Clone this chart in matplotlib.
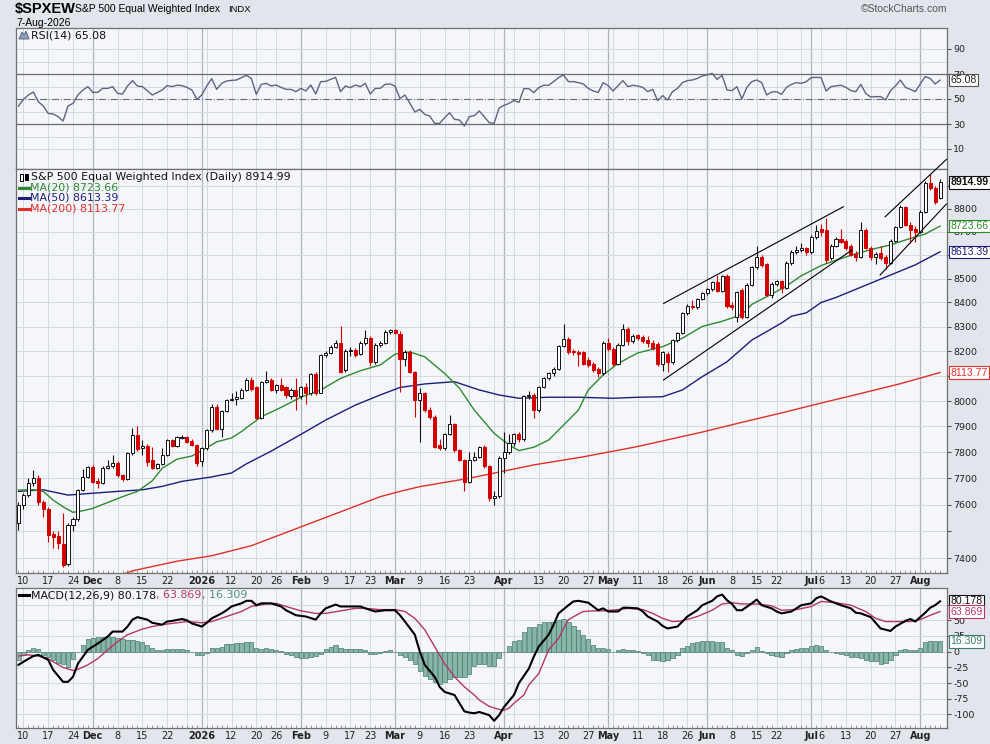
import numpy as np
import matplotlib
matplotlib.use("Agg")
import matplotlib.pyplot as plt
from matplotlib import font_manager
from matplotlib.lines import Line2D
from matplotlib.patches import Polygon, Rectangle

# daily bars, 7-Nov-2025 .. 7-Aug-2026 (bar 0 = 7-Nov)
opens = [7530, 7600, 7636, 7680, 7700, 7610, 7585, 7490, 7482, 7455,
         7380, 7525, 7547, 7655, 7705, 7743, 7690, 7682, 7740, 7745,
         7758, 7712, 7697, 7797, 7866, 7816, 7823, 7770, 7740, 7755,
         7790, 7847, 7825, 7855, 7860, 7845, 7828, 7765, 7815, 7886,
         7978, 7890, 7960, 8005, 8010, 8013, 8045, 8085, 8055, 7935,
         8077, 8085, 8045, 8065, 8055, 8018, 8044, 8018, 8055, 8032,
         8108, 8032, 8185, 8193, 8218, 8234, 8124, 8200, 8204, 8190,
         8234, 8255, 8157, 8226, 8234, 8280, 8285, 8270, 8168, 8198,
         8116, 8004, 8030, 7964, 7938, 7826, 7818, 7870, 7910, 7808,
         7770, 7687, 7770, 7783, 7820, 7745, 7625, 7632, 7778, 7800,
         7835, 7870, 7850, 8020, 8024, 7964, 8055, 8090, 8110, 8128,
         8220, 8250, 8200, 8196, 8196, 8165, 8150, 8128, 8110, 8234,
         8210, 8150, 8226, 8290, 8240, 8264, 8258, 8245, 8234, 8230,
         8150, 8190, 8155, 8245, 8273, 8356, 8386, 8380, 8415, 8440,
         8455, 8484, 8450, 8510, 8390, 8340, 8452, 8340, 8473, 8548,
         8590, 8560, 8430, 8477, 8490, 8460, 8565, 8612, 8620, 8628,
         8612, 8677, 8712, 8705, 8585, 8640, 8670, 8660, 8640, 8605,
         8590, 8707, 8630, 8590, 8610, 8590, 8565, 8660, 8720, 8808,
         8730, 8712, 8700, 8787, 8910, 8892, 8845]
highs = [7610, 7645, 7700, 7731, 7712, 7618, 7590, 7500, 7500, 7570,
         7530, 7555, 7660, 7735, 7748, 7750, 7700, 7745, 7770, 7790,
         7765, 7718, 7800, 7894, 7900, 7847, 7830, 7820, 7760, 7815,
         7850, 7852, 7862, 7865, 7864, 7850, 7832, 7820, 7890, 7990,
         7990, 7965, 8010, 8030, 8040, 8050, 8090, 8095, 8060, 8080,
         8120, 8090, 8068, 8090, 8060, 8050, 8090, 8060, 8070, 8112,
         8115, 8190, 8200, 8225, 8245, 8302, 8210, 8215, 8212, 8240,
         8285, 8262, 8232, 8240, 8285, 8292, 8292, 8282, 8205, 8205,
         8120, 8050, 8035, 7975, 7945, 7850, 7875, 7945, 7915, 7812,
         7775, 7800, 7800, 7825, 7828, 7750, 7650, 7785, 7880, 7870,
         7875, 7880, 8025, 8040, 8030, 8060, 8095, 8115, 8135, 8225,
         8310, 8258, 8210, 8205, 8200, 8175, 8158, 8135, 8240, 8255,
         8218, 8232, 8310, 8300, 8270, 8270, 8265, 8262, 8245, 8238,
         8200, 8196, 8250, 8280, 8360, 8392, 8410, 8420, 8445, 8460,
         8490, 8515, 8515, 8520, 8400, 8450, 8460, 8480, 8555, 8640,
         8600, 8565, 8485, 8495, 8495, 8575, 8620, 8640, 8650, 8635,
         8685, 8730, 8735, 8760, 8645, 8675, 8712, 8668, 8648, 8615,
         8740, 8715, 8640, 8612, 8640, 8598, 8668, 8725, 8815, 8812,
         8740, 8725, 8792, 8920, 8950, 8900, 8930]
lows = [7505, 7585, 7630, 7672, 7600, 7554, 7460, 7440, 7435, 7370,
        7372, 7500, 7540, 7650, 7700, 7680, 7663, 7678, 7735, 7740,
        7705, 7690, 7692, 7790, 7805, 7790, 7745, 7735, 7735, 7750,
        7785, 7820, 7820, 7850, 7835, 7822, 7745, 7745, 7810, 7880,
        7885, 7860, 7955, 8000, 7985, 8008, 8040, 8040, 7930, 7930,
        8070, 8040, 8030, 8040, 8012, 8010, 7965, 8010, 7990, 8025,
        8025, 8030, 8178, 8188, 8212, 8110, 8115, 8180, 8178, 8185,
        8225, 8140, 8150, 8218, 8228, 8270, 8268, 8035, 8140, 8110,
        7938, 7840, 7958, 7930, 7815, 7808, 7810, 7865, 7800, 7765,
        7650, 7680, 7765, 7778, 7738, 7612, 7598, 7625, 7720, 7792,
        7825, 7840, 7845, 8010, 7935, 7958, 8050, 8085, 8100, 8122,
        8215, 8190, 8185, 8140, 8145, 8135, 8115, 8095, 8105, 8200,
        8140, 8145, 8220, 8225, 8232, 8245, 8232, 8215, 8205, 8140,
        8120, 8115, 8150, 8238, 8268, 8350, 8375, 8375, 8410, 8432,
        8450, 8445, 8445, 8378, 8370, 8320, 8330, 8335, 8468, 8540,
        8550, 8425, 8420, 8470, 8440, 8455, 8558, 8605, 8612, 8600,
        8605, 8670, 8680, 8565, 8580, 8632, 8650, 8620, 8595, 8575,
        8585, 8625, 8580, 8560, 8580, 8540, 8560, 8655, 8715, 8725,
        8650, 8655, 8695, 8780, 8880, 8820, 8840]
closes = [7600, 7636, 7680, 7700, 7610, 7585, 7485, 7480, 7458, 7377,
          7525, 7547, 7655, 7705, 7743, 7685, 7682, 7740, 7745, 7758,
          7712, 7697, 7797, 7866, 7812, 7823, 7762, 7740, 7755, 7790,
          7847, 7825, 7858, 7860, 7840, 7828, 7760, 7815, 7886, 7978,
          7890, 7960, 8005, 8010, 8015, 8045, 8085, 8048, 7933, 8077,
          8085, 8045, 8065, 8045, 8024, 8044, 8018, 8055, 8032, 8108,
          8032, 8185, 8193, 8218, 8234, 8116, 8200, 8204, 8185, 8234,
          8255, 8157, 8226, 8234, 8280, 8285, 8275, 8168, 8198, 8116,
          8004, 8030, 7964, 7938, 7820, 7818, 7870, 7910, 7808, 7770,
          7687, 7770, 7783, 7820, 7745, 7625, 7632, 7778, 7800, 7835,
          7870, 7850, 8020, 8025, 7964, 8055, 8090, 8110, 8128, 8220,
          8250, 8196, 8196, 8190, 8150, 8145, 8124, 8110, 8234, 8210,
          8150, 8226, 8290, 8240, 8262, 8255, 8240, 8232, 8214, 8150,
          8195, 8155, 8245, 8273, 8356, 8386, 8380, 8415, 8440, 8455,
          8484, 8450, 8510, 8384, 8380, 8445, 8340, 8473, 8548, 8590,
          8558, 8430, 8477, 8490, 8460, 8565, 8612, 8622, 8628, 8612,
          8677, 8702, 8700, 8580, 8640, 8668, 8655, 8630, 8600, 8590,
          8707, 8630, 8590, 8603, 8585, 8565, 8660, 8720, 8808, 8730,
          8707, 8700, 8787, 8910, 8892, 8830, 8914.99]

# moving averages, read at selected bars
ma20_bar = [0, 3, 5, 7, 9, 11, 13, 15, 18, 21, 24, 27, 29, 32, 35, 37, 40, 43, 45, 49,
            53, 57, 61, 65, 69, 73, 76, 79, 82, 86, 89, 92, 96, 99, 101, 104, 107, 110, 113, 115,
            118, 121, 125, 130, 134, 138, 142, 146, 148, 152, 155, 158, 162, 165, 169, 173, 176, 179, 183, 186]
ma20 = [7655, 7656, 7650, 7617, 7592, 7571, 7577, 7586, 7608, 7630, 7650, 7690, 7738, 7773, 7785, 7806, 7840, 7855, 7880, 7938,
        7975, 8015, 8044, 8090, 8121, 8144, 8188, 8197, 8177, 8110, 8051, 7964, 7873, 7828, 7806, 7819, 7847, 7905, 7964, 8044,
        8104, 8150, 8193, 8218, 8253, 8301, 8322, 8350, 8392, 8435, 8469, 8512, 8555, 8578, 8605, 8628, 8643, 8664, 8690, 8723.66]
ma50_bar = [0, 5, 10, 15, 20, 25, 29, 33, 39, 43, 46, 51, 57, 62, 68, 73, 77, 82, 88, 93,
            97, 101, 107, 113, 120, 125, 130, 134, 138, 143, 148, 154, 156, 159, 162, 165, 169, 176, 181, 186]
ma50 = [7650, 7656, 7636, 7643, 7650, 7656, 7669, 7688, 7705, 7720, 7755, 7804, 7869, 7925, 7984, 8024, 8054, 8068, 8077, 8044,
        8024, 8011, 8015, 8015, 8011, 8015, 8017, 8044, 8097, 8157, 8245, 8315, 8343, 8357, 8400, 8421, 8455, 8515, 8558, 8613.39]
ma200_bar = [15, 23, 32, 39, 47, 66, 73, 77, 81, 91, 104, 114, 125, 138, 146, 154, 162, 170, 178, 186]
ma200 = [7300, 7355, 7390, 7410, 7447, 7580, 7630, 7650, 7668, 7700, 7751, 7782, 7822, 7878, 7916, 7953, 7992, 8030, 8069, 8113.77]

rsi = [44.4, 49.7, 53.2, 55.6, 47.9, 44.4, 38.5, 38.0, 35.9, 32.4,
       44.4, 46.5, 53.2, 57.2, 59.9, 55.3, 55.3, 58.5, 58.5, 59.9,
       54.5, 54.0, 60.4, 64.7, 60.4, 59.9, 56.7, 53.2, 55.1, 57.2,
       60.7, 59.9, 61.0, 60.7, 59.3, 57.2, 49.7, 53.2, 60.4, 66.3,
       57.7, 62.5, 64.4, 64.9, 65.2, 67.1, 68.9, 66.5, 53.7, 61.7,
       62.5, 60.4, 61.2, 59.3, 57.7, 57.7, 55.9,
       58.5, 56.4, 61.2, 54.0, 63.9, 64.1, 65.7, 67.3, 55.9, 60.4,
       59.1, 61.2, 59.9, 62.5, 54.0, 58.5, 58.5, 61.7, 62.0, 60.4,
       50.3, 53.2, 46.5, 39.6, 41.7, 37.7, 36.4, 30.5, 30.5, 35.0,
       39.0, 33.7, 33.2, 28.4, 35.9, 36.7, 40.4, 35.9, 31.1, 30.5,
       42.8, 44.9, 46.5, 48.7, 47.3, 58.3, 58.3, 55.1, 59.1, 61.0,
       61.0, 63.9, 67.1, 69.2, 63.9, 63.9, 63.1, 62.0, 58.5, 56.4,
       55.3, 63.1, 60.7, 56.4, 60.7, 64.7, 59.9, 61.0, 60.4, 59.3,
       55.9, 57.7, 48.7, 52.7, 49.2, 55.9, 58.5,
       63.1, 64.7, 65.2, 66.5, 68.4, 69.2, 70.5, 65.7, 68.9, 57.2,
       56.7, 59.9, 50.0, 59.3, 63.9, 65.2, 63.1, 53.2, 55.6, 55.9,
       53.7, 59.3, 61.7, 63.1, 62.5, 63.9, 67.1, 67.3, 67.1, 56.4,
       59.9, 60.5, 61.0, 59.3, 56.7, 55.9, 61.7, 54.5, 51.6, 51.9,
       51.9, 49.2, 56.7, 60.4, 65.2, 59.3, 57.7, 55.9, 62.0, 67.9,
       66.5, 62.0, 65.08]

macd_bar = [0, 1, 3, 4, 6, 7, 9, 10, 11, 12, 14, 16, 18, 19, 21, 22, 23, 24, 26, 27,
            29, 30, 31, 33, 34, 35, 37, 38, 39, 41, 42, 43, 45, 46, 47, 48, 49, 51, 53, 54,
            56, 58, 60, 61, 62, 64, 65, 67, 69, 70, 72, 74, 76, 77, 78, 80, 81, 82, 84, 85,
            86, 88, 89, 90, 91, 92, 93, 95, 96, 97, 98, 100, 101, 103, 104, 105, 107, 108, 109, 111,
            112, 113, 115, 116, 117, 118, 119, 121, 122, 123, 125, 126, 127, 129, 130, 131, 133, 134, 135, 137,
            138, 140, 141, 142, 143, 144, 145, 146, 148, 149, 150, 152, 153, 154, 156, 157, 158, 160, 161, 162,
            164, 165, 166, 168, 169, 170, 172, 173, 174, 176, 177, 179, 180, 181, 182, 183, 184, 185, 186]
macd = [-21, -16, -7, -5, -13, -29, -48, -48, -40, -19, 3, 13, 24, 32, 32, 40, 51, 55, 51, 46,
        43, 48, 49, 52, 50, 45, 40, 46, 53, 61, 66, 72, 77, 81, 81, 74, 77, 77, 72, 66,
        58, 56, 51, 61, 69, 75, 72, 72, 72, 69, 64, 66, 66, 58, 48, 27, 0, -21, -40, -56,
        -64, -69, -82, -95, -97, -98, -96, -101, -110, -101, -88, -69, -50, -27, -8, 8, 27, 43, 61, 74,
        80, 81, 78, 72, 66, 69, 64, 64, 70, 70, 69, 64, 56, 48, 41, 37, 40, 48, 56, 66,
        74, 81, 88, 91, 82, 76, 66, 66, 77, 83, 74, 69, 64, 61, 64, 69, 74, 77, 85, 88,
        80, 77, 74, 69, 62, 61, 55, 46, 37, 33, 40, 49, 52, 48, 55, 62, 70, 74, 80.178]
signal_bar = [0, 2, 4, 6, 7, 9, 11, 12, 14, 16, 18, 20, 22, 25, 27, 29, 31, 34, 37, 39,
              42, 45, 47, 50, 52, 54, 57, 60, 62, 65, 68, 70, 73, 76, 78, 80, 82, 84, 86, 88,
              90, 92, 93, 95, 97, 98, 99, 100, 102, 103, 105, 106, 107, 109, 110, 111, 113, 114, 116, 118,
              121, 123, 126, 128, 130, 132, 134, 137, 140, 142, 144, 146, 149, 152, 154, 157, 160, 162, 165, 168,
              171, 173, 175, 177, 180, 182, 184, 186]
signal = [-7, -5, -7, -11, -16, -25, -30, -28, -21, -11, 3, 16, 27, 36, 40, 43, 45, 48, 46, 48,
          56, 64, 72, 76, 77, 72, 65, 61, 61, 65, 69, 69, 67, 67, 64, 53, 35, 8, -19, -40,
          -56, -69, -77, -87, -92, -93, -90, -82, -69, -53, -35, -16, 3, 21, 37, 51, 60, 64, 65, 65,
          67, 69, 67, 61, 53, 48, 49, 56, 66, 76, 78, 76, 76, 73, 66, 67, 72, 80, 78, 74,
          64, 53, 48, 48, 48, 51, 58, 63.869]
hist = [-14, -6, 2, 6, 4, -5, -9, -13, -18, -20, -24, -12, 0, 10, 20, 22, 23, 24, 25, 24,
        22, 20, 19, 18, 17, 15, 11, 6, 3, 3, 4, 4, 5, 5, 3, 0, -5, -5, -2, 6,
        6, 8, 12, 13, 14, 14, 15, 15, 6, 5, 6, 4, 3, 1, -3, -5, -9, -10, -10, -9,
        -7, -3, 5, 8, 11, 6, 5, 4, 5, 4, 3, -3, -3, -2, 1, 2, 0, -5, -9, -13,
        -20, -30, -38, -44, -48, -52, -48, -44, -40, -40, -40, -36, -22, -20, -20, -22, -22, -10, 0, 8.5,
        16.5, 19, 32, 40, 40, 44, 47, 47, 47, 50, 52, 48, 41, 35, 27, 20, 10.6, 6, 6, 4,
        0, 3, 4, 3, 2, 1, -2, -5, -13, -14, -15.5, -13, -10, -6, 6, 9.5, 14, 15, 16.5, 17.5,
        16.5, 16, 15, 6, 3, -5, -7.5, -2, 3, 7, 0.5, -2, -5, -7.5, -8.5, -2, 2, 4, 6, 6,
        8.5, 10.6, 8.5, 2, -1, -2, -3, -5, -8.5, -8.5, -10, -13, -14.5, -15.5, -19, -18, -13, -6, 2, 4,
        3, 2, 6, 15, 17.5, 16.5, 16.309]

# channel lines drawn on the chart: (bar, price) end points
trend_lines = [((130.2, 8396), (166.5, 8808)),
               ((130.2, 8084), (168.2, 8621)),
               ((174.9, 8764), (187.3, 9017)),
               ((173.9, 8515), (187.3, 8820))]

tick_bars = [1, 6, 11, 15, 20, 25, 30, 37, 43, 48, 52, 57, 62, 67, 71, 76, 81, 86, 91, 98,
             105, 110, 115, 119, 125, 130, 135, 139, 144, 149, 153, 160, 162, 167, 172, 177, 182]
tick_text = ['10', '17', '24', 'Dec', '8', '15', '22', '2026', '12', '20', '26', 'Feb', '9', '17', '23',
             'Mar', '9', '16', '23', 'Apr', '13', '20', '27', 'May', '11', '18', '26', 'Jun', '8', '15',
             '22', 'Jul', '6', '13', '20', '27', 'Aug']
week_bars = [1, 6, 11, 15, 20, 25, 30, 34, 38, 43, 48, 52, 57, 62, 67, 71, 76, 81, 86, 91, 96, 100,
             105, 110, 115, 120, 125, 130, 135, 139, 144, 149, 153, 158, 162, 167, 172, 177, 182]
month_bars = [15, 37, 57, 76, 98, 119, 139, 160, 182]
month_names = {'Dec', '2026', 'Feb', 'Mar', 'Apr', 'May', 'Jun', 'Jul', 'Aug'}

names = {f.name for f in font_manager.fontManager.ttflist}
narrow = 'Liberation Sans Narrow' if 'Liberation Sans Narrow' in names else 'Liberation Sans'

BG = '#e2e5eb'
PANEL = '#f4f6fa'
GRID = '#d5d9e1'
MGRID = '#aeb3bd'
UP_EDGE = '#111111'
DOWN = '#d40000'
GREEN = '#2f8a2f'
NAVY = '#1c1f78'
RED = '#e0302a'
MAROON = '#b3366a'
TEAL = '#86b6a8'
TEAL_EDGE = '#4a7a6d'

W, H = 990, 744
fig = plt.figure(figsize=(9.9, 7.44), dpi=100, facecolor=BG)


def fx(px):
    return px / W


def fy(py):
    return 1 - py / H


def panel(top, bottom):
    return fig.add_axes([fx(16), fy(bottom), 931 / W, (bottom - top) / H])


ax_r = panel(28, 169)
ax_p = panel(169, 573)
ax_m = panel(588, 728)

n = len(closes)
x = np.arange(n)

for ax in (ax_r, ax_p, ax_m):
    ax.set_facecolor(PANEL)
    ax.set_xlim(-0.5, 187.4)
    for s in ax.spines.values():
        s.set_color('#6f6f6f')
        s.set_linewidth(0.9)
    for b in week_bars:
        ax.axvline(b, color=GRID, lw=0.7, zorder=0)
    for b in month_bars:
        ax.axvline(b, color=MGRID, lw=0.9, zorder=0)
    ax.yaxis.tick_right()
    ax.tick_params(axis='y', which='major', labelsize=6.8, length=3, pad=1.5,
                   color='#555555', labelcolor='#222222')
    ax.tick_params(axis='y', which='minor', length=0)

# ---- RSI
ax_r.set_ylim(-6, 106.8)
for lvl in (10, 20, 40, 60, 80, 90):
    ax_r.axhline(lvl, color=GRID, lw=0.7, zorder=0)
ax_r.axhline(70, color='#6a6a72', lw=0.9, zorder=1)
ax_r.axhline(30, color='#6a6a72', lw=0.9, zorder=1)
ax_r.axhline(50, color='#6a6a72', lw=0.8, ls='-.', zorder=1)
ax_r.plot(x, rsi, color='#5f6480', lw=1.0, zorder=3)
ax_r.set_yticks([10, 30, 50, 70, 90])
ax_r.set_xticks([])

# ---- price
ax_p.set_yscale('log')
ax_p.set_ylim(7347, 8974)
price_ticks = list(range(7400, 9000, 100))
price_labels = ['' if t in (7500, 8100, 8600, 8900) else str(t) for t in price_ticks]
ax_p.yaxis.set_minor_locator(matplotlib.ticker.NullLocator())
ax_p.set_yticks(price_ticks)
ax_p.set_yticklabels(price_labels)
ax_p.yaxis.set_minor_formatter(matplotlib.ticker.NullFormatter())
for t in price_ticks:
    ax_p.axhline(t, color=GRID, lw=0.7, zorder=0)

ax_p.plot(ma200_bar, ma200, color=RED, lw=1.0, zorder=2)
ax_p.plot(ma50_bar, ma50, color=NAVY, lw=1.0, zorder=2)
ax_p.plot(ma20_bar, ma20, color=GREEN, lw=1.0, zorder=2)

o = np.array(opens, dtype=float)
c = np.array(closes, dtype=float)
up = c >= o
wick_col = [UP_EDGE if u else DOWN for u in up]
ax_p.vlines(x, lows, highs, colors=wick_col, lw=0.8, zorder=3)
body_lo = np.minimum(o, c)
body_h = np.maximum(np.abs(c - o), 1.5)
ax_p.bar(x[up], body_h[up], bottom=body_lo[up], width=0.62, color='white',
         edgecolor=UP_EDGE, linewidth=0.7, zorder=4)
ax_p.bar(x[~up], body_h[~up], bottom=body_lo[~up], width=0.62, color=DOWN,
         edgecolor=DOWN, linewidth=0.7, zorder=4)

for (x0, y0), (x1, y1) in trend_lines:
    ax_p.plot([x0, x1], [y0, y1], color='black', lw=0.8, zorder=5, clip_on=False)

# ---- MACD
ax_m.set_ylim(-121.5, 101.4)
for lvl in range(-100, 100, 25):
    ax_m.axhline(lvl, color=GRID, lw=0.7, zorder=0)
ax_m.bar(x, hist, width=0.85, color=TEAL, edgecolor=TEAL_EDGE, linewidth=0.5, zorder=2)
ax_m.plot(signal_bar, signal, color=MAROON, lw=1.0, zorder=3)
ax_m.plot(macd_bar, macd, color='black', lw=1.5, zorder=4)
ax_m.set_yticks([-100, -75, -50, -25, 0, 25, 50, 75])
ax_m.set_yticklabels(['-100', '-75', '-50', '-25', '0', '25', '50', ''])

for ax in (ax_p, ax_m):
    ax.set_xticks(tick_bars)
    ax.set_xticklabels(tick_text)
    ax.set_xticks(x, minor=True)
    ax.tick_params(axis='x', which='major', length=0, pad=2, labelsize=7, labelcolor='#222222')
    ax.tick_params(axis='x', which='minor', length=2, direction='in', color='#8a8a8a', width=0.6)
    for lab in ax.get_xticklabels():
        if lab.get_text() in month_names:
            lab.set_fontweight('bold')


def value_tag(ax, y, text, color, bold=False, edge=None):
    ax.annotate(text, xy=(1.0, y), xycoords=('axes fraction', 'data'),
                xytext=(2.5, 0), textcoords='offset points', ha='left', va='center',
                family='Liberation Sans', fontsize=7.6, color=color,
                fontweight='bold' if bold else 'normal',
                bbox=dict(boxstyle='square,pad=0.12', fc='white', ec=edge or color, lw=0.8),
                annotation_clip=False, zorder=10)


value_tag(ax_r, 65.08, '65.08', '#222222', edge='#555555')
value_tag(ax_p, 8914.99, '8914.99', '#111111', bold=True)
value_tag(ax_p, 8723.66, '8723.66', GREEN)
value_tag(ax_p, 8613.39, '8613.39', NAVY)
value_tag(ax_p, 8113.77, '8113.77', RED)
value_tag(ax_m, 80.178, '80.178', '#111111')
value_tag(ax_m, 63.869, '63.869', MAROON)
value_tag(ax_m, 16.309, '16.309', '#3f7f70')

# ---- header text
fig.text(fx(15), fy(9.5), r'\$SPXEW', family=narrow, fontsize=10.5, fontweight='bold', va='center')
fig.text(fx(75), fy(9.5), 'S&P 500 Equal Weighted Index', family=narrow, fontsize=7.5, va='center')
fig.text(fx(228), fy(9.5), 'INDX', family=narrow, fontsize=6.8, va='center')
fig.text(fx(16), fy(22.5), '7-Aug-2026', family='Liberation Sans', fontsize=7.5, va='center')
fig.text(fx(947), fy(9.5), '\u00a9StockCharts.com', family='Liberation Sans', fontsize=7.5,
         color='#555555', ha='right', va='center')

# ---- panel legends
LEG = 7.9
fig.patches.append(Polygon([(fx(19), fy(39)), (fx(22), fy(32)), (fx(24), fy(35)), (fx(26), fy(31)),
                            (fx(29), fy(39))], closed=True, transform=fig.transFigure,
                           fc='#8ea0b8', ec='#4d5d78', lw=0.6))
fig.text(fx(31), fy(35), 'RSI(14) 65.08', fontsize=LEG, color='#111111', va='center')

fig.patches.append(Rectangle((fx(19.5), fy(180.5)), 3 / W, 7 / H, transform=fig.transFigure,
                             fc='white', ec='black', lw=0.7))
fig.patches.append(Rectangle((fx(24.5), fy(179.5)), 3 / W, 6 / H, transform=fig.transFigure,
                             fc='black', ec='black', lw=0.7))
fig.text(fx(31), fy(176.5), 'S&P 500 Equal Weighted Index (Daily) 8914.99', fontsize=LEG,
         color='#111111', va='center')
for py, label, col in ((187.5, 'MA(20) 8723.66', GREEN), (198, 'MA(50) 8613.39', NAVY),
                       (208.5, 'MA(200) 8113.77', RED)):
    fig.lines.append(Line2D([fx(19), fx(29)], [fy(py), fy(py)], transform=fig.transFigure,
                            color=col, lw=2.2))
    fig.text(fx(30), fy(py), label, fontsize=LEG, color=col, va='center')

fig.lines.append(Line2D([fx(19), fx(29)], [fy(595), fy(595)], transform=fig.transFigure,
                        color='black', lw=2.2))
renderer = fig.canvas.get_renderer()
xpos = fx(31)
for part, col in (('MACD(12,26,9) 80.178', '#111111'), (', 63.869', MAROON), (', 16.309', '#4f8f80')):
    t = fig.text(xpos, fy(595), part, fontsize=LEG, color=col, va='center')
    xpos = fig.transFigure.inverted().transform(t.get_window_extent(renderer).p1)[0]

fig.savefig('out.png', dpi=100, facecolor=BG)
